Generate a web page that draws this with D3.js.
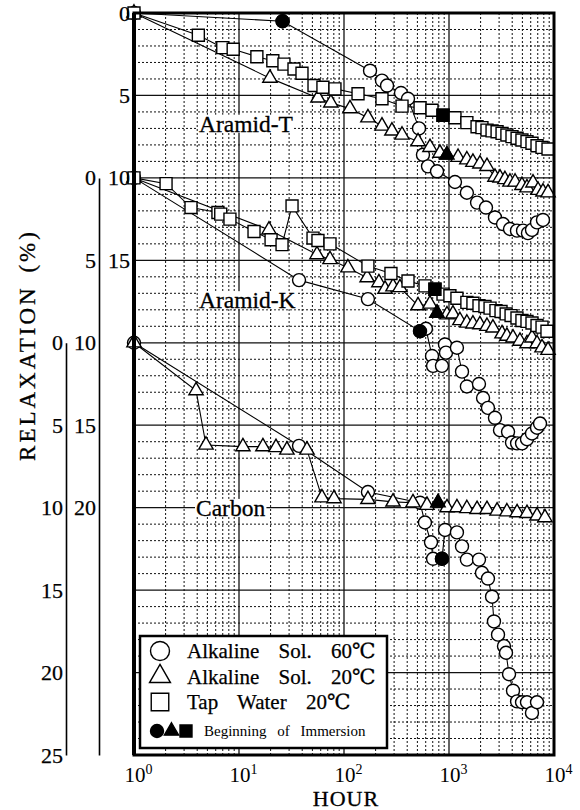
<!DOCTYPE html>
<html>
<head>
<meta charset="utf-8">
<script src="https://cdn.jsdelivr.net/npm/d3@7"></script>
<style>
body { margin: 0; background: #fff; }
svg { display: block; }
svg text { font-family: "Liberation Serif", "Times New Roman", "DejaVu Serif", serif; fill: #000; }
</style>
</head>
<body>
<svg width="580" height="810"></svg>
<script>
// values are [hour, relaxation %]
var tAlk60 = [[1,0],[26,0.5],[177,3.5],[230,4.1],[257,4.4],[349,4.85],[407,5.2],[518,7.0],[565,8.6],[631,9.3],[769,9.6],[1140,10.25],[1480,10.9],[1850,11.5],[2250,11.8],[2740,12.4],[3270,12.8],[3810,13.1],[4440,13.2],[5070,13.2],[5650,13.35],[6170,13.15],[6890,12.7],[7850,12.55]];
var tAlk20 = [[1,0],[19.7,3.95],[56.5,5.15],[75,5.45],[114,5.8],[169,6.35],[230,6.85],[286,7.15],[357,7.4],[507,7.8],[659,8.15],[820,8.5],[955,8.6],[1220,8.75],[1480,8.9],[1690,9.05],[1970,9.15],[2300,9.3],[2740,9.95],[3060,10.0],[3410,10.1],[3810,10.25],[4260,10.25],[4950,10.45],[5530,10.6],[6310,10.3],[7050,10.75],[7850,10.85],[8770,10.9]];
var tTap = [[1,0],[4.1,1.35],[7.0,2.1],[8.8,2.2],[14.8,2.65],[21,2.9],[26.8,3.1],[33.4,3.4],[39.8,3.65],[51.8,4.4],[63,4.5],[82,4.6],[136,4.9],[230,5.2],[357,5.65],[530,5.75],[689,5.9],[877,6.2],[1140,6.35],[1480,6.65],[1850,6.9],[2060,6.95],[2300,7.1],[2570,7.15],[2870,7.2],[3200,7.3],[3560,7.4],[3980,7.5],[4450,7.6],[4950,7.7],[5530,7.8],[6170,7.9],[6890,8.05],[7690,8.15],[8770,8.25]];

var kAlk60 = [[1,0],[37.3,6.2],[169,7.35],[530,9.3],[603,9.15],[689,10.8],[705,11.4],[857,11.4],[916,10.1],[936,10.6],[1190,10.3],[1330,11.75],[1480,12.65],[1930,12.5],[2110,13.35],[2350,13.95],[2740,14.55],[3060,15.3],[3650,15.4],[3980,16.05],[4450,16.1],[4960,16.1],[5530,15.85],[6170,15.5],[6890,15.15],[7360,14.9]];
var kAlk20 = [[1,0],[19.3,3.15],[55.3,4.65],[73.6,4.95],[109,5.45],[166,6.05],[215,6.35],[246,6.75],[293,6.6],[341,6.65],[507,7.75],[659,7.65],[769,8.2],[957,8.3],[1090,8.25],[1270,8.65],[1480,8.8],[1690,8.85],[1970,8.9],[2300,9.0],[2620,9.1],[3200,9.45],[3560,9.6],[4070,9.7],[4740,9.9],[5530,10.05],[6170,9.7],[6890,10.05],[7690,10.3],[8770,10.45]];
var kTap = [[1,0],[2.02,0.35],[3.49,1.8],[6.3,2.1],[6.7,2.2],[8.2,2.5],[13.9,3.25],[20.2,3.75],[25.7,4.05],[32,1.7],[50.7,3.65],[56.5,3.8],[73.6,4.0],[169,5.35],[280,5.8],[407,6.25],[591,6.55],[735,6.75],[877,7.05],[1020,7.15],[1190,7.3],[1480,7.55],[1690,7.6],[1930,7.75],[2200,7.8],[2460,7.9],[2800,8.05],[3130,8.1],[3500,8.25],[3900,8.35],[4440,8.5],[4950,8.65],[5530,8.7],[6170,8.8],[6890,8.95],[7690,9.05],[8570,9.3]];

var cAlk60 = [[1,0],[37.3,6.25],[169,9.05],[530,9.7],[590,10.9],[674,12.1],[705,13.1],[857,13.1],[916,11.35],[1190,11.5],[1330,12.35],[1480,13.15],[1930,13.15],[2060,13.95],[2350,14.3],[2570,15.4],[2680,16.9],[2930,17.7],[3340,18.4],[3490,18.8],[3730,20.1],[4070,21.1],[4450,21.75],[4960,21.8],[5530,21.8],[6170,22.45],[6890,21.8]];
var cAlk20 = [[1,0],[3.9,2.9],[4.85,6.2],[10.9,6.3],[16.9,6.3],[22.5,6.35],[28.6,6.5],[44.4,6.5],[61.7,9.4],[80.3,9.45],[169,9.5],[293,9.65],[454,9.7],[617,9.85],[786,9.7],[957,10.0],[1190,10.0],[1480,10.05],[1850,10.1],[2300,10.1],[2870,10.2],[3560,10.25],[4450,10.3],[5530,10.35],[6890,10.5],[8200,10.6]];

// beginning of immersion points
var tStart = [[26,0.5],[955,8.6],[877,6.2]];
var kStart = [[530,9.3],[769,8.2],[735,6.75]];
var cStart = [[857,13.1],[786,9.7]];

var panelNames = ["Aramid-T", "Aramid-K", "Carbon"];
var panelShift = [0, 10, 20];
var xTicks = [1, 10, 100, 1000, 10000];
var legendLabels = ["Alkaline Sol. 60\u2103", "Alkaline Sol. 20\u2103", "Tap Water 20\u2103"];

var svg = d3.select("svg"),
	pL = 134, pR = 554, pT = 13, pB = 755;

var x = d3.scaleLog().domain([1, 1e4]).range([pL, pR]);
var y = d3.scaleLinear().domain([0, 45]).range([pT, pB]);

// grid
var grid = svg.append("g");
x.ticks().forEach(function(t){
	var lg = Math.log10(t), major = Math.abs(lg - Math.round(lg)) < 1e-9;
	grid.append("line")
		.attr("x1", x(t)).attr("x2", x(t)).attr("y1", pT).attr("y2", pB)
		.attr("stroke", "#111").attr("stroke-width", major ? 1.3 : 1)
		.attr("stroke-dasharray", major ? null : "2,2");
});
d3.range(0, 46).forEach(function(v){
	var major = v % 5 == 0;
	grid.append("line")
		.attr("x1", pL).attr("x2", pR).attr("y1", y(v)).attr("y2", y(v))
		.attr("stroke", "#111").attr("stroke-width", major ? 1.3 : 1)
		.attr("stroke-dasharray", major ? null : "2,2");
});

// panel labels with white background
var labels = svg.append("g");
[[panelNames[0], 199, 7.2], [panelNames[1], 199, 17.9], [panelNames[2], 196, 30.5]].forEach(function(p){
	var t = labels.append("text").attr("x", p[1]).attr("y", y(p[2]))
		.attr("font-size", 23.5).attr("stroke", "#000").attr("stroke-width", 0.3).text(p[0]);
	var b = t.node().getBBox();
	labels.insert("rect", "text").attr("x", b.x - 1).attr("y", b.y + 4)
		.attr("width", b.width + 2).attr("height", b.height - 8).attr("fill", "#fff");
});

var symTri = d3.symbol().type(d3.symbolTriangle),
	symSq = d3.symbol().type(d3.symbolSquare);

function marker(sel, shape, r, filled) {
	var fill = filled ? "#000" : "#fff";
	sel.each(function(){
		var g = d3.select(this);
		if (shape == "circle") g.append("circle").attr("r", r);
		else if (shape == "triangle") g.append("path").attr("d", symTri.size(r * r * 2.1)());
		else g.append("path").attr("d", symSq.size(r * r * 3.4)());
	});
	sel.selectAll("circle,path").attr("fill", fill).attr("stroke", "#000").attr("stroke-width", 1.4);
}

var shapes = ["circle", "triangle", "square"];
var panels = [[tAlk60, tAlk20, tTap], [kAlk60, kAlk20, kTap], [cAlk60, cAlk20]];
var starts = [tStart, kStart, cStart];

var plot = svg.append("g");
panels.forEach(function(series, pi){
	var off = panelShift[pi];
	var line = d3.line().x(function(d){ return x(d[0]); }).y(function(d){ return y(d[1] + off); });
	series.forEach(function(data){
		plot.append("path").datum(data).attr("d", line)
			.attr("fill", "none").attr("stroke", "#000").attr("stroke-width", 1.1);
	});
	series.forEach(function(data, si){
		var pts = plot.selectAll(null).data(data).enter().append("g")
			.attr("transform", function(d){ return "translate(" + x(d[0]) + "," + y(d[1] + off) + ")"; });
		marker(pts, shapes[si], 6.5, false);
	});
	starts[pi].forEach(function(d, si){
		var g = plot.append("g").attr("transform", "translate(" + x(d[0]) + "," + y(d[1] + off) + ")");
		marker(g, shapes[si], 6.5, true);
	});
});

// frame
svg.append("rect").attr("x", pL).attr("y", pT).attr("width", pR - pL).attr("height", pB - pT)
	.attr("fill", "none").attr("stroke", "#000").attr("stroke-width", 3);
svg.append("line").attr("x1", pL).attr("x2", pL).attr("y1", pT).attr("y2", pB)
	.attr("stroke", "#000").attr("stroke-width", 4);

// y axes
var yT = d3.scaleLinear().domain([0, 15]).range([y(0), y(15)]),
	yK = d3.scaleLinear().domain([0, 35]).range([y(10), y(45)]),
	yC = d3.scaleLinear().domain([0, 25]).range([y(20), y(45)]);

var axT = svg.append("g").attr("transform", "translate(" + (pL - 1) + ",0)")
	.call(d3.axisLeft(yT).tickValues([0, 5, 10, 15]).tickSize(0).tickPadding(3));
axT.select(".domain").remove();
var axK = svg.append("g").attr("transform", "translate(99,0)")
	.call(d3.axisLeft(yK).tickValues([0, 5, 10, 15, 20]).tickSize(0).tickPadding(3));
var axC = svg.append("g").attr("transform", "translate(66,0)")
	.call(d3.axisLeft(yC).tickValues([0, 5, 10, 15, 20, 25]).tickSize(0).tickPadding(3));
[axT, axK, axC].forEach(function(a){
	a.attr("font-family", null);
	a.selectAll("text").attr("font-size", 22).attr("stroke", "#000").attr("stroke-width", 0.25);
	a.select(".domain").attr("stroke-width", 1.6);
});

// x axis
var axX = svg.append("g").attr("transform", "translate(0," + pB + ")")
	.call(d3.axisBottom(x).tickValues(xTicks).tickSize(0).tickPadding(12).tickFormat(""));
axX.attr("font-family", null);
axX.select(".domain").remove();
axX.selectAll(".tick text").each(function(d){
	var t = d3.select(this).attr("font-size", 21).attr("text-anchor", "middle").attr("dx", 4);
	t.append("tspan").text("10");
	t.append("tspan").attr("font-size", 14).attr("dy", -8).text(Math.round(Math.log10(d)));
});

svg.append("text").attr("x", 346).attr("y", 806).attr("text-anchor", "middle")
	.attr("font-size", 22).attr("letter-spacing", 1).attr("stroke", "#000").attr("stroke-width", 0.3).text("HOUR");
svg.append("text").attr("transform", "translate(35,345) rotate(-90)").attr("text-anchor", "middle")
	.attr("font-size", 23).attr("letter-spacing", 3).attr("word-spacing", 4)
	.attr("stroke", "#000").attr("stroke-width", 0.3).text("RELAXATION (%)");

// legend
var lg = svg.append("g").attr("transform", "translate(140,636)");
lg.append("rect").attr("width", 247).attr("height", 112).attr("fill", "#fff")
	.attr("stroke", "#000").attr("stroke-width", 2.5);
legendLabels.forEach(function(s, i){
	var row = lg.append("g").attr("transform", "translate(20," + (15 + i * 25.5) + ")");
	marker(row, shapes[i], 9.5, false);
	lg.append("text").attr("x", 47).attr("y", 22 + i * 25.5).attr("font-size", 21)
		.attr("word-spacing", 14).attr("stroke", "#000").attr("stroke-width", 0.25).text(s);
});
shapes.forEach(function(s, i){
	var g = lg.append("g").attr("transform", "translate(" + (17 + i * 14.5) + ",95)");
	marker(g, s, 6.5, true);
});
lg.append("text").attr("x", 64).attr("y", 100).attr("font-size", 15)
	.attr("word-spacing", 7).text("Beginning of Immersion");
</script>
</body>
</html>
